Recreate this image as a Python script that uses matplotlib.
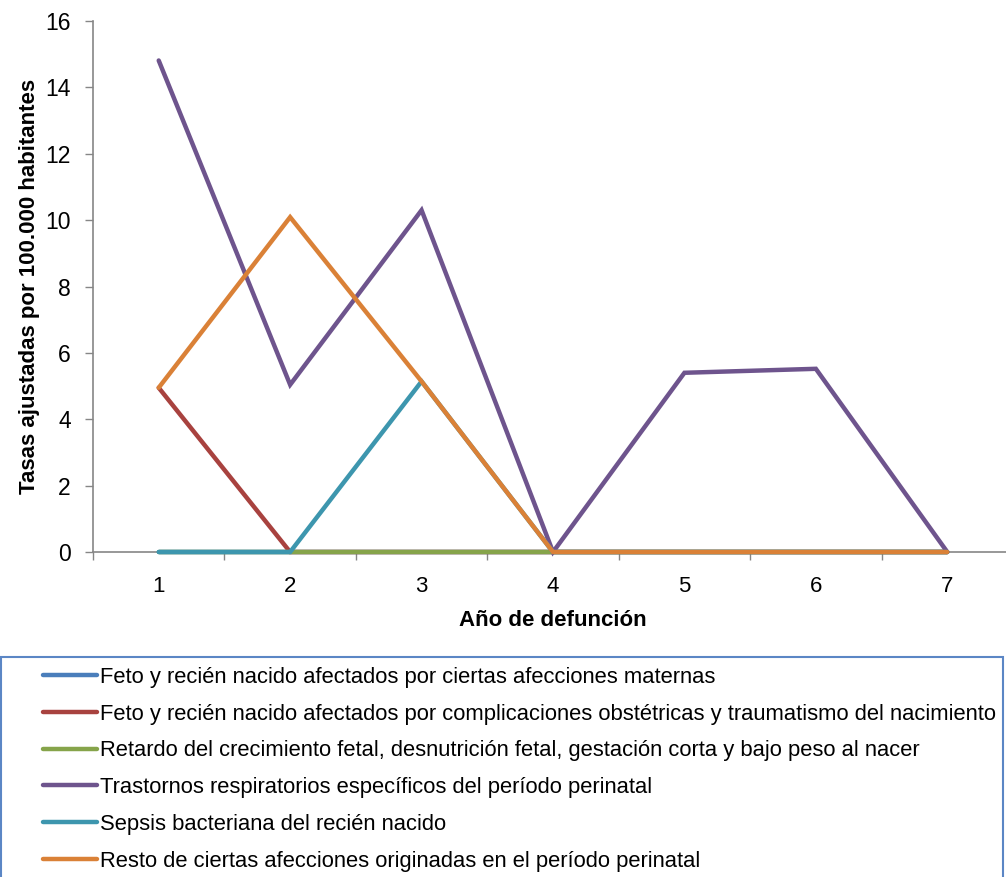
import matplotlib
matplotlib.use("Agg")
import matplotlib.pyplot as plt
from matplotlib.patches import Rectangle

plt.rcParams['font.family'] = ['Liberation Sans', 'DejaVu Sans']

years = [1, 2, 3, 4, 5, 6, 7]
series_names = [
    "Feto y recién nacido afectados por ciertas afecciones maternas",
    "Feto y recién nacido afectados por complicaciones obstétricas y traumatismo del nacimiento",
    "Retardo del crecimiento fetal, desnutrición fetal, gestación corta y bajo peso al nacer",
    "Trastornos respiratorios específicos del período perinatal",
    "Sepsis bacteriana del recién nacido",
    "Resto de ciertas afecciones originadas en el período perinatal",
]
maternas = [0, 0, 0, 0, 0, 0, 0]
complicaciones = [4.95, 0, 0, 0, 0, 0, 0]
retardo = [0, 0, 0, 0, 0, 0, 0]
respiratorios = [14.81, 5.04, 10.30, 0, 5.40, 5.52, 0]
sepsis = [0, 0, 5.14, 0, 0, 0, 0]
resto = [4.95, 10.09, 5.14, 0, 0, 0, 0]

series_values = [maternas, complicaciones, retardo, respiratorios, sepsis, resto]
colors = ["#4A7EBB", "#A8423F", "#86A44A", "#6E548D", "#3D96AE", "#DA8137"]

fig = plt.figure(figsize=(10.06, 8.77), dpi=100)
ax = fig.add_axes([93 / 1006, 1 - 552 / 877, (1013 - 93) / 1006, (552 - 21) / 877])

for name, vals, c in zip(series_names, series_values, colors):
    ax.plot(years, vals, color=c, lw=3.2, label=name, solid_capstyle='round',
            solid_joinstyle='miter', clip_on=False)

ax.set_xlim(0.5, 7.5)
ax.set_ylim(0, 16)
ax.set_yticks(range(0, 17, 2))
ax.set_xticks(years)
ax.set_xticks([y + 0.5 for y in [0] + years], minor=True)
ax.tick_params(axis='x', which='major', length=0, pad=17, labelsize=16)
ax.tick_params(axis='x', which='minor', length=6, width=1, color='#868686', direction='out')
ax.tick_params(axis='y', length=6, width=1, color='#868686', labelsize=16.5, pad=10)

for s in ['top', 'right']:
    ax.spines[s].set_visible(False)
for s in ['left', 'bottom']:
    ax.spines[s].set_color('#868686')
    ax.spines[s].set_linewidth(1.2)
ax.spines['bottom'].set_zorder(0)

ax.set_xlabel("Año de defunción", fontsize=16, fontweight='bold', labelpad=10)
ax.set_ylabel("Tasas ajustadas por 100.000 habitantes", fontsize=16, fontweight='bold', labelpad=4)

fig.patches.append(Rectangle((1 / 1006, -0.05), 1002 / 1006, 0.05 + (877 - 657) / 877,
                             transform=fig.transFigure, fill=False,
                             edgecolor='#5B86C5', lw=1.5))

fig.legend(loc='upper left', bbox_to_anchor=(34 / 1006, 1 - 658 / 877),
           frameon=False, fontsize=15.8, handlelength=2.45, handletextpad=0.18,
           labelspacing=0.72, borderaxespad=0)

fig.savefig("out.png", dpi=100)
